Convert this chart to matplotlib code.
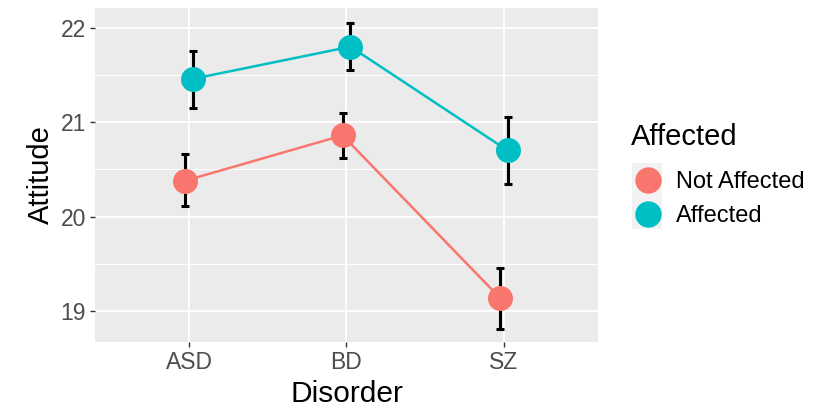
import matplotlib
matplotlib.use('Agg')
from matplotlib import pyplot as plt
from matplotlib.lines import Line2D
from matplotlib.patches import Rectangle
import numpy as np

plt.rcParams['font.family'] = ['Liberation Sans', 'DejaVu Sans']

# data
disorders = ["ASD", "BD", "SZ"]
groups = ["Not Affected", "Affected"]
notAffMean = [20.38, 20.86, 19.14]
notAffLow = [20.11, 20.62, 18.81]
notAffHigh = [20.66, 21.10, 19.45]
affMean = [21.46, 21.80, 20.70]
affLow = [21.15, 21.55, 20.35]
affHigh = [21.75, 22.05, 21.06]

colours = ["#F8766D", "#00BFC4"]
dodge = [-0.025, 0.025]

W, H = 815.0, 409.0
fig = plt.figure(figsize=(W / 100, H / 100), dpi=100)
ax = fig.add_axes([0.1166, 0.1638, 0.6171, 0.8166])
ax.set_facecolor("#EBEBEB")

xPos = np.arange(1, len(disorders) + 1)
series = [(notAffMean, notAffLow, notAffHigh), (affMean, affLow, affHigh)]
for i, (m, lo, hi) in enumerate(series):
    x = xPos + dodge[i]
    m = np.array(m)
    yerr = [m - np.array(lo), np.array(hi) - m]
    ax.plot(x, m, "-", color=colours[i], lw=1.8, zorder=3)
    ax.errorbar(x, m, yerr=yerr, fmt="none", ecolor="black", elinewidth=2.2,
                capsize=3, capthick=2.2, zorder=4)
    ax.plot(x, m, "o", color=colours[i], ms=18, mec="none", zorder=5)

ax.set_xlim(0.4, 3.6)
ax.set_ylim(18.67, 22.21)
ax.set_xticks(xPos)
ax.set_xticklabels(disorders)
ax.set_yticks([19, 20, 21, 22])
ax.set_yticks([19.5, 20.5, 21.5], minor=True)
ax.grid(which="major", color="white", lw=1.3)
ax.grid(which="minor", axis="y", color="white", lw=0.7)
ax.set_axisbelow(True)
for s in ax.spines.values():
    s.set_visible(False)
ax.tick_params(which="major", length=3.5, width=1, color="#333333",
               labelsize=16.5, labelcolor="#4D4D4D", pad=3)
ax.tick_params(which="minor", length=0)
ax.set_xlabel("Disorder", fontsize=21.5, labelpad=4)
ax.set_ylabel("Attitude", fontsize=21, labelpad=4)

# legend: title placed separately so the gap to the keys matches
fig.text(631 / W, 1 - 137 / H, "Affected", fontsize=21, ha="left", va="center")
fig.patches.append(Rectangle((632 / W, 1 - 229 / H), 30 / W, 66 / H,
                             transform=fig.transFigure, facecolor="#F2F2F2",
                             edgecolor="none", zorder=0))
handles = [Line2D([], [], ls="none", marker="o", ms=19, color=c, mec="none")
           for c in colours]
leg = fig.legend(handles, groups, loc="upper left",
                 bbox_to_anchor=(631 / W, 1 - 171 / H), frameon=False,
                 fontsize=17, handletextpad=0.5, labelspacing=0.5,
                 handlelength=1.4, borderpad=0, borderaxespad=0)

fig.savefig("out.png", dpi=100)
